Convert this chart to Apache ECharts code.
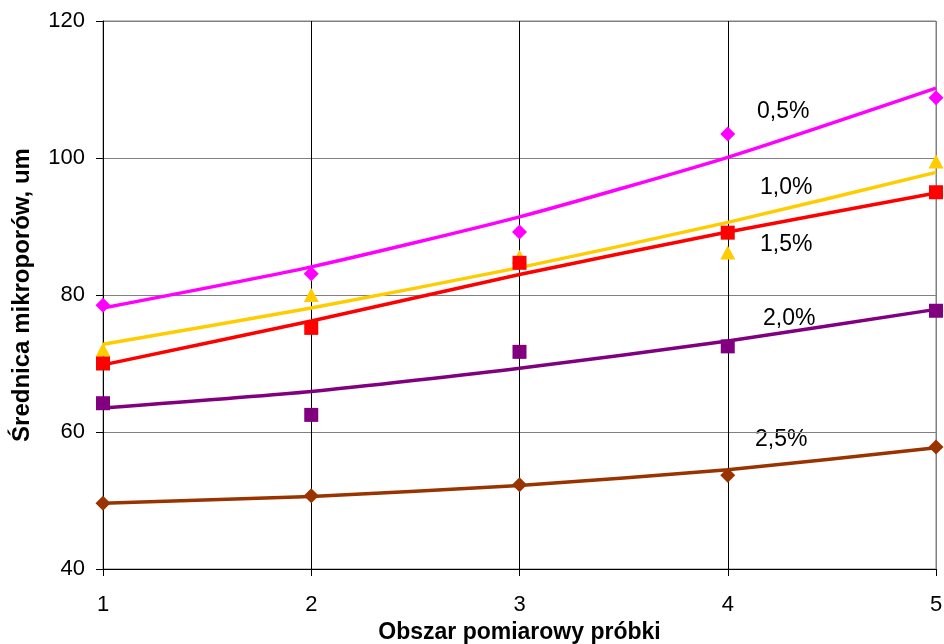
<!DOCTYPE html>
<html>
<head>
<meta charset="utf-8">
<script src="https://cdn.jsdelivr.net/npm/echarts@6/dist/echarts.min.js"></script>
<style>
html,body{margin:0;padding:0;background:#fff;}
#chart{width:944px;height:644px;}
</style>
</head>
<body>
<div id="chart"></div>
<script>
const xValues = [1, 2, 3, 4, 5];
const seriesNames = ['0,5%', '1,0%', '1,5%', '2,0%', '2,5%'];
// measured points
const pts05 = [78.5, 83.1, 89.2, 103.5, 108.8];
const pts10 = [72.0, 80.0, 85.6, 86.2, 99.5];
const pts15 = [70.0, 75.2, 84.7, 89.1, 95.0];
const pts20 = [64.2, 62.5, 71.7, 72.5, 77.7];
const pts25 = [49.6, 50.7, 52.3, 53.7, 57.8];
// trend lines at x = 1..5
const trend05 = [78.1, 84.1, 91.4, 100.1, 110.2];
const trend10 = [72.8, 78.1, 84.0, 90.6, 97.9];
const trend15 = [69.8, 76.2, 83.0, 89.2, 94.9];
const trend20 = [63.5, 65.9, 69.3, 73.3, 77.9];
const trend25 = [49.6, 50.6, 52.2, 54.5, 57.7];
const yTicks = [40, 60, 80, 100, 120];

const colors = ['#FF00FF', '#FFCC00', '#FF0000', '#800080', '#993300'];
const symbols = ['diamond', 'triangle', 'rect', 'rect', 'diamond'];
const symSizes = [[15, 15], [15, 14], [14, 14], [14, 14], [15, 15]];
const allPts = [pts05, pts10, pts15, pts20, pts25];
const allTrend = [trend05, trend10, trend15, trend20, trend25];

const pair = arr => arr.map((v, i) => [xValues[i], v]);

const series = [];
allTrend.forEach((t, k) => {
  series.push({
    name: seriesNames[k] + ' trend', type: 'line', data: pair(t), smooth: 0.2,
    showSymbol: false, symbol: 'none', z: 2,
    lineStyle: { color: colors[k], width: 3.5 }, silent: true
  });
});
allPts.forEach((p, k) => {
  series.push({
    name: seriesNames[k], type: 'scatter', data: pair(p), z: 3,
    symbol: symbols[k], symbolSize: symSizes[k],
    itemStyle: { color: colors[k], opacity: 1 }
  });
});

const chart = echarts.init(document.getElementById('chart'), null, { renderer: 'canvas' });
const font = 'Liberation Sans, Arial, sans-serif';
chart.setOption({
  animation: false,
  backgroundColor: '#fff',
  grid: { left: 103, right: 8, top: 21, bottom: 75, containLabel: false, outerBoundsMode: 'none',
          show: true, borderColor: '#808080', borderWidth: 1 },
  xAxis: {
    type: 'value', min: 1, max: 5, interval: 1,
    name: 'Obszar pomiarowy próbki', nameLocation: 'middle', nameGap: 49,
    nameTextStyle: { fontFamily: font, fontSize: 23, fontWeight: 'bold', color: '#000' },
    axisLine: { show: true, onZero: false, lineStyle: { color: '#000', width: 1 } },
    axisTick: { show: true, inside: false, length: 7, lineStyle: { color: '#000' } },
    axisLabel: { fontFamily: font, fontSize: 22, color: '#000', margin: 25 },
    splitLine: { show: true, lineStyle: { color: ['#000', '#000', '#000', '#000', '#808080'], width: 1 } }
  },
  yAxis: {
    type: 'value', min: yTicks[0], max: yTicks[yTicks.length - 1], interval: 20,
    name: 'Średnica mikroporów, um', nameLocation: 'middle', nameGap: 69, nameRotate: 90,
    nameTextStyle: { fontFamily: font, fontSize: 24, fontWeight: 'bold', color: '#000' },
    axisLine: { show: true, onZero: false, lineStyle: { color: '#000', width: 1 } },
    axisTick: { show: true, inside: false, length: 7, lineStyle: { color: '#000' } },
    axisLabel: { fontFamily: font, fontSize: 22, color: '#000', margin: 18 },
    splitLine: { show: true, lineStyle: { color: '#808080', width: 1 } }
  },
  graphic: [
    { type: 'text', left: 757, top: 100, style: { text: seriesNames[0], font: '23px ' + font, fill: '#000' } },
    { type: 'text', left: 760, top: 176, style: { text: seriesNames[1], font: '23px ' + font, fill: '#000' } },
    { type: 'text', left: 760, top: 233, style: { text: seriesNames[2], font: '23px ' + font, fill: '#000' } },
    { type: 'text', left: 763, top: 307, style: { text: seriesNames[3], font: '23px ' + font, fill: '#000' } },
    { type: 'text', left: 755, top: 428, style: { text: seriesNames[4], font: '23px ' + font, fill: '#000' } }
  ],
  series: series
});
</script>
</body>
</html>
